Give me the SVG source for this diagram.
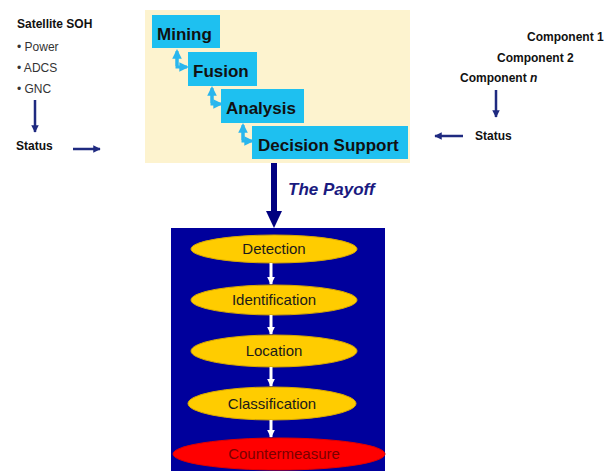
<svg xmlns="http://www.w3.org/2000/svg" width="609" height="471" viewBox="0 0 609 471">
<style>
text{font-family:"Liberation Sans",Arial,sans-serif}
.b{font-weight:bold;fill:#111}
.lbl{font-size:12px}
.bul{font-size:12px;fill:#333}
.stage{font-size:17px;font-weight:bold;fill:#111}
.box{fill:#1ec0f0}
.bent{fill:none;stroke:#29b6ee;stroke-width:3}
.nav{stroke:#1f2a80;stroke-width:2.5;fill:none}
.ell{fill:#ffcc00;stroke:#d8a800;stroke-width:1}
.et{font-size:15px;fill:#1a1a1a;text-anchor:middle}
.wa{stroke:#fff;stroke-width:3}
</style>
<defs>
<marker id="nh" viewBox="0 0 10 10" refX="9" refY="5" markerWidth="3" markerHeight="3" orient="auto"><path d="M0,0L10,5L0,10z" fill="#1f2a80"/></marker>
<marker id="bh" viewBox="0 0 10 10" refX="8" refY="5" markerWidth="3.2" markerHeight="3.2" orient="auto"><path d="M0,0L10,5L0,10z" fill="#29b6ee"/></marker>
<marker id="wh" viewBox="0 0 10 10" refX="9" refY="5" markerWidth="2.6" markerHeight="2.6" orient="auto"><path d="M0,0L10,5L0,10z" fill="#fff"/></marker>
</defs>

<g id="panel"><rect x="145" y="10" width="265" height="153" fill="#fdf3cf"/></g>

<g id="left-soh">
<text class="b lbl" x="17" y="28">Satellite SOH</text>
<text class="bul" x="17" y="51">• Power</text>
<text class="bul" x="17" y="72">• ADCS</text>
<text class="bul" x="17" y="93">• GNC</text>
<text class="b lbl" x="16" y="150">Status</text>
</g>

<g id="right-comp">
<text class="b lbl" x="527" y="41">Component 1</text>
<text class="b lbl" x="497" y="62">Component 2</text>
<text class="b lbl" x="460" y="82">Component <tspan font-style="italic">n</tspan></text>
<text class="b lbl" x="475" y="140">Status</text>
</g>

<g id="mining"><rect class="box" x="152" y="15" width="68" height="33"/><text class="stage" x="157" y="40">Mining</text></g>
<g id="fusion"><rect class="box" x="188" y="52" width="69" height="34"/><text class="stage" x="193" y="77">Fusion</text></g>
<g id="analysis"><rect class="box" x="221" y="89" width="83" height="34"/><text class="stage" x="226" y="114">Analysis</text></g>
<g id="decision"><rect class="box" x="252" y="126" width="156" height="33"/><text class="stage" x="258" y="151">Decision Support</text></g>

<g id="payoff-label"><text x="288" y="195" font-size="17" font-weight="bold" font-style="italic" fill="#1a1a80">The Payoff</text></g>

<g id="chain-box"><rect x="171" y="228" width="214" height="243" fill="#00009c"/></g>

<g id="detection"><ellipse class="ell" cx="274" cy="249" rx="83" ry="14"/><text class="et" x="274" y="254">Detection</text></g>
<g id="identification"><ellipse class="ell" cx="274" cy="300" rx="83" ry="15"/><text class="et" x="274" y="305">Identification</text></g>
<g id="location"><ellipse class="ell" cx="274" cy="351" rx="83" ry="16"/><text class="et" x="274" y="356">Location</text></g>
<g id="classification"><ellipse class="ell" cx="272" cy="403.5" rx="84" ry="16.5"/><text class="et" x="272" y="409">Classification</text></g>
<g id="countermeasure"><ellipse cx="279" cy="454" rx="106" ry="16" fill="#ff0000" stroke="#e00000"/><text class="et" x="284" y="459" style="fill:#7a0000">Countermeasure</text></g>

<g id="connectors">
<path class="nav" d="M35,100V132" marker-end="url(#nh)"/>
<path class="nav" d="M73,149H100" marker-end="url(#nh)"/>
<path class="nav" d="M496,90V117" marker-end="url(#nh)"/>
<path class="nav" d="M463,136H435" marker-end="url(#nh)"/>
<path class="bent" d="M177,66V51" marker-end="url(#bh)"/>
<path class="bent" d="M177,55V67H187" marker-end="url(#bh)"/>
<path class="bent" d="M212,103V88" marker-end="url(#bh)"/>
<path class="bent" d="M212,92V104H221" marker-end="url(#bh)"/>
<path class="bent" d="M243,140V125" marker-end="url(#bh)"/>
<path class="bent" d="M243,129V141H252" marker-end="url(#bh)"/>
<path d="M274,163V212" stroke="#000080" stroke-width="6"/>
<path d="M266,211H282L274,228z" fill="#000080"/>
<path class="wa" d="M271,263V284" marker-end="url(#wh)"/>
<path class="wa" d="M271,315V334" marker-end="url(#wh)"/>
<path class="wa" d="M271,367V386" marker-end="url(#wh)"/>
<path class="wa" d="M271,420V437" marker-end="url(#wh)"/>
</g>
</svg>
